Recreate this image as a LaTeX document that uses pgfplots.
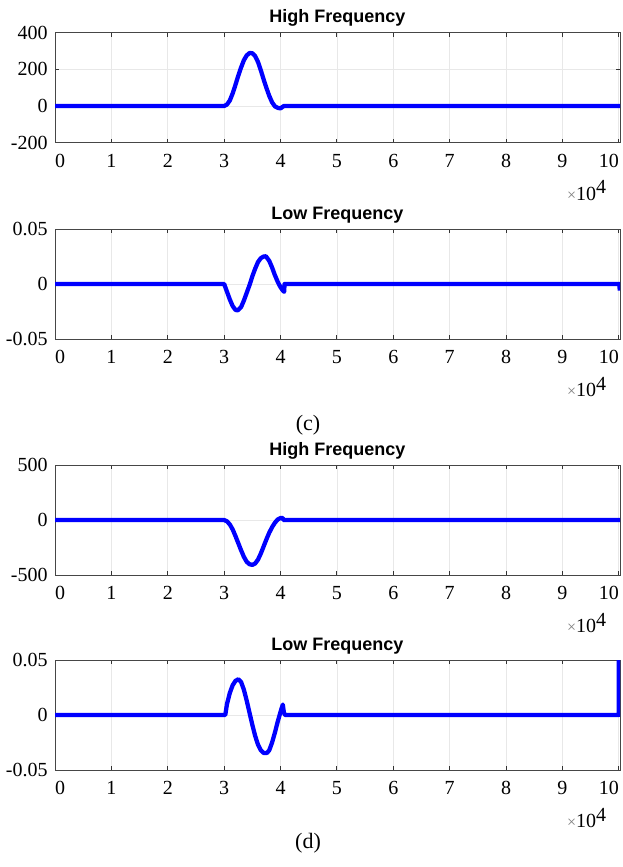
\documentclass[border=0pt]{standalone}
\usepackage{pgfplots}
\pgfplotsset{compat=1.18}
\usepackage{fontspec}
\setmainfont{Liberation Serif}
\newfontfamily\arial{Liberation Sans}
\definecolor{mblue}{RGB}{0,0,255}

\pgfplotsset{
 mystyle/.style={
  scale only axis, width=423.75pt, height=82.5pt,
  xmin=0, xmax=100200,
  xtick={0,10000,20000,30000,40000,50000,60000,70000,80000,90000,100000},
  xticklabels={\makebox[0pt][l]{0},1,2,3,4,5,6,7,8,9,\makebox[0pt][r]{10}},
  scaled x ticks=false, scaled y ticks=false,
  clip mode=individual,
  grid=major, major grid style={gray!18, line width=0.6pt},
  axis line style={gray!55!black, line width=0.7pt},
  major tick style={gray!40!black, line width=0.7pt}, major tick length=3pt,
  tick align=inside,
  ticklabel style={font=\fontsize{15}{15}\selectfont},
  xticklabel style={yshift=-5pt},
  yticklabel style={xshift=-2pt},
  anchor=north west,
  no markers,
  every axis plot/.append style={mblue, line width=3.2pt, line join=round},
  every axis title/.style={at={(0.5,1)}, anchor=south, yshift=1pt, font=\arial\bfseries\fontsize{13.5}{14}\selectfont},
 },
}
\newcommand{\scalelabel}{\node[font=\fontsize{15}{15}\selectfont, xshift=-25pt, yshift=-36pt] at (rel axis cs:1,0) {{\color{gray}\fontsize{12}{12}\selectfont ×}10\raisebox{0.75ex}{4}};}

\begin{document}
\begin{tikzpicture}
\useasboundingbox (0,0) rectangle (466.5pt,-650.25pt);

% (c) High Frequency
\begin{axis}[mystyle, at={(41.25pt,-24.5pt)}, title={High Frequency},
  ymin=-200, ymax=400, ytick={-200,0,200,400}, yticklabels={-200,0,200,400}]
\addplot coordinates {
(0,0) (30000,0) (30500,8) (31000,30) (31500,68) (32000,115) (32500,165)
(33000,210) (33500,250) (34000,276) (34500,289) (35000,288) (35500,272)
(36000,240) (36500,195) (37000,145) (37500,98) (38000,55) (38500,20)
(39000,-2) (39500,-10) (40000,-13) (40300,-6) (40600,0) (100200,0)
};
\scalelabel
\end{axis}

% (c) Low Frequency
\begin{axis}[mystyle, at={(41.25pt,-171.75pt)}, title={Low Frequency},
  ymin=-0.05, ymax=0.05, ytick={-0.05,0,0.05}, yticklabels={-0.05,0,0.05}]
\addplot coordinates {
(0,0) (30000,0) (30500,-0.007) (31000,-0.014) (31500,-0.020) (32000,-0.0235)
(32400,-0.024) (33000,-0.021) (33500,-0.015) (34000,-0.008) (34500,-0.001)
(35000,0.007) (35500,0.014) (36000,0.020) (36500,0.0235) (37000,0.025)
(37400,0.0252) (38000,0.021) (38500,0.015) (39000,0.008) (39500,0.002)
(40000,-0.003) (40500,-0.0065) (40650,-0.007) (40700,0) (100100,0) (100150,-0.006)
};
\scalelabel
\end{axis}

\node[font=\fontsize{16.5}{17}\selectfont] at (231pt,-318.75pt) {(c)};

% (d) High Frequency
\begin{axis}[mystyle, at={(41.25pt,-348.75pt)}, title={High Frequency},
  ymin=-500, ymax=500, ytick={-500,0,500}, yticklabels={-500,0,500}]
\addplot coordinates {
(0,0) (30000,0) (30500,-12) (31000,-40) (31500,-85) (32000,-145) (32500,-210)
(33000,-275) (33500,-335) (34000,-380) (34500,-402) (35000,-408) (35500,-395)
(36000,-360) (36500,-305) (37000,-240) (37500,-175) (38000,-115) (38500,-65)
(39000,-25) (39500,5) (40000,18) (40400,18) (40500,0) (100200,0)
};
\scalelabel
\end{axis}

% (d) Low Frequency
\begin{axis}[mystyle, at={(41.25pt,-495pt)}, title={Low Frequency},
  ymin=-0.05, ymax=0.05, ytick={-0.05,0,0.05}, yticklabels={-0.05,0,0.05}]
\addplot coordinates {
(0,0) (30000,0) (30200,0) (30500,0.010) (31000,0.020) (31500,0.027)
(32000,0.031) (32500,0.0325) (33000,0.030) (33500,0.023) (34000,0.013)
(34500,0.002) (35000,-0.009) (35500,-0.019) (36000,-0.027) (36500,-0.032)
(37000,-0.0345) (37600,-0.0345) (38000,-0.032) (38500,-0.025) (39000,-0.016)
(39500,-0.006) (40000,0.003) (40400,0.0095) (40600,0.002) (40800,0)
(100000,0) (100000,0.06)
};
\scalelabel
\end{axis}

\node[font=\fontsize{16.5}{17}\selectfont] at (231pt,-632.25pt) {(d)};
\end{tikzpicture}
\end{document}
